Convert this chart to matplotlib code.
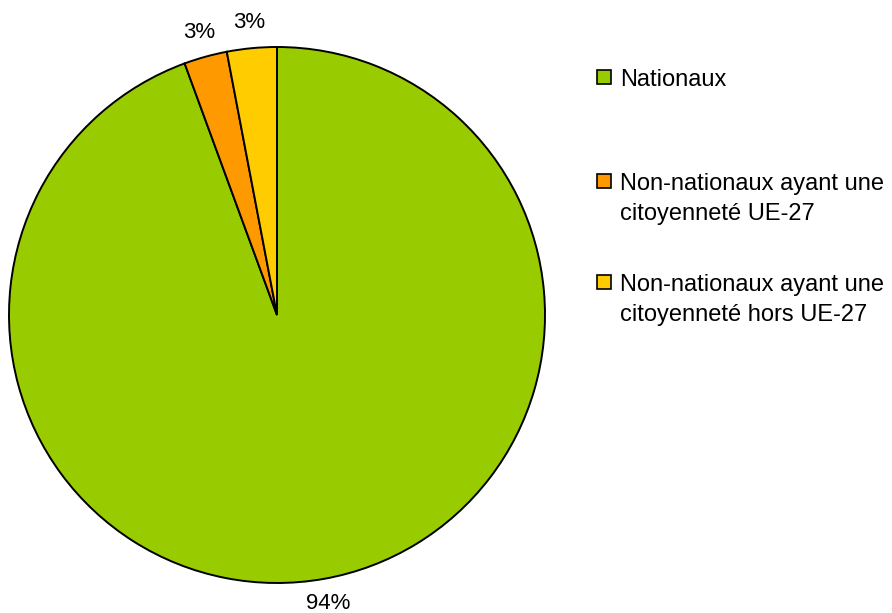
import matplotlib
matplotlib.use("Agg")
import matplotlib.pyplot as plt
from matplotlib.patches import Rectangle

plt.rcParams["font.family"] = ["Liberation Sans", "DejaVu Sans"]

labels = ["Nationaux",
          "Non-nationaux ayant une\ncitoyenneté UE-27",
          "Non-nationaux ayant une\ncitoyenneté hors UE-27"]
shares = [94.4, 2.6, 3.0]
colors = ["#99CC00", "#FF9900", "#FFCC00"]

W, H = 892, 613
fig = plt.figure(figsize=(W / 100, H / 100), dpi=100)
# pie centred at (277, 315) px, radius ~268 px
cx, cy, r = 277, 315, 268
ax = fig.add_axes([(cx - r) / W, (H - cy - r) / H, 2 * r / W, 2 * r / H])
ax.pie(shares, colors=colors, startangle=90, counterclock=False,
       autopct="%.0f%%", pctdistance=1.095,
       wedgeprops=dict(edgecolor="black", linewidth=1.4),
       textprops=dict(fontsize=16, color="black"))
ax.set_xlim(-1, 1); ax.set_ylim(-1, 1)
ax.set_aspect("equal")
ax.axis("off")

# legend drawn by hand (Excel-style uneven spacing)
leg_base = [86, 190, 291]  # baseline of first line, px from top
for lab, col, yb in zip(labels, colors, leg_base):
    fig.patches.append(Rectangle((597 / W, (H - yb + 2) / H), 14 / W, 14 / H,
                                 facecolor=col, edgecolor="black", linewidth=1.2,
                                 transform=fig.transFigure, figure=fig))
    fig.text(620 / W, (H - yb) / H, lab.split("\n")[0], fontsize=17,
             va="baseline", ha="left")
    if "\n" in lab:
        fig.text(620 / W, (H - yb - 30) / H, lab.split("\n")[1], fontsize=17,
                 va="baseline", ha="left")

fig.savefig("out.png", dpi=100)
